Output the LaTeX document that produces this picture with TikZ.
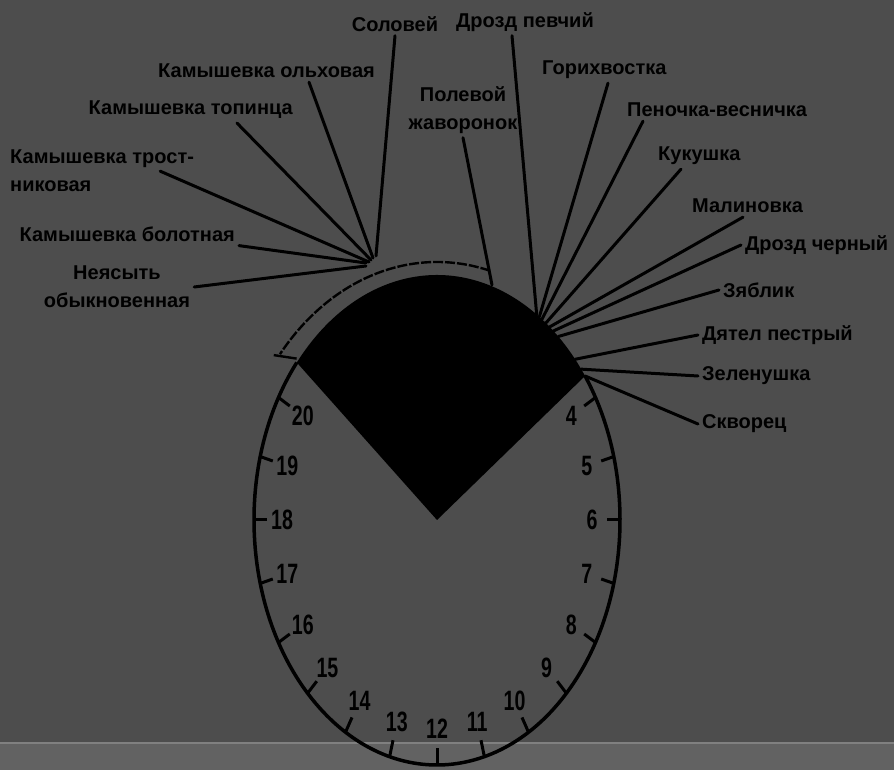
\documentclass[tikz,border=0pt]{standalone}
\usepackage{fontspec}
\setmainfont{Liberation Sans}
\newfontfamily\numfont[FakeStretch=0.7]{Liberation Sans}
\usepackage{xcolor}
\usepackage{tikz}
\usetikzlibrary{positioning,calc}
\definecolor{slate}{RGB}{77,77,77}
\definecolor{strip}{RGB}{98,98,98}
\definecolor{stripedge}{RGB}{128,128,128}

\begin{document}
\begin{tikzpicture}[
    x=1pt, y=1pt,
    bird/.style={font=\fontsize{20}{28}\selectfont\bfseries, inner sep=4pt, align=center},
    hour/.style={font=\numfont\fontsize{28}{28}\selectfont\bfseries, inner sep=0pt},
    lead/.style={line width=3pt, line cap=round},
    rim/.style={line width=3.5pt},
    tick/.style={line width=3pt}
]

% background and lower strip
\useasboundingbox (0,0) rectangle (894,770);
\fill[slate] (-5,-5) rectangle (899,775);
\fill[strip] (-5,-5) rectangle (899,27);
\draw[stripedge, line width=2pt] (-5,27) -- (899,27);

\coordinate (c) at (437,250);

% night sector and dial
\fill (c) -- ($(c)+(36:183 and 245)$) arc[start angle=36, end angle=140, x radius=183, y radius=245] -- cycle;
\draw[rim] ($(c)+(140:183 and 245)$) arc[start angle=140, end angle=396, x radius=183, y radius=245];
\draw[line width=2.4pt, dash pattern=on 10pt off 2pt] ($(c)+(75:205 and 258)$)
    arc[start angle=75, end angle=140, x radius=205, y radius=258];
\draw[line width=2.4pt] ($(c)+(141:210 and 262)$) -- ($(c)+(139:186 and 246)$);

% hour marks
\foreach \h in {4,...,20}{
  \pgfmathsetmacro{\ang}{270+(12-\h)*15}
  \draw[tick] ($(c)+(\ang:183 and 245)$) -- ($(c)+(\ang:170 and 228)$);
  \node[hour] (h\h) at ($(c)+(\ang:155 and 209)$) {\h};
}

% left group
\node[bird] (sol) at (395,746) {Соловей};
\node[bird, anchor=east] (kolh) at (379,699) {Камышевка ольховая};
\node[bird, anchor=east] (ktop) at (297,660) {Камышевка топинца};
\node[bird, anchor=north west, align=left] (ktrost) at (6,624) {Камышевка трост-\\никовая};
\node[bird, anchor=east] (kbol) at (239,536) {Камышевка болотная};
\node[bird] (nej) at (117,483) {Неясыть\\обыкновенная};

% middle
\node[bird] (pol) at (463,660) {Полевой\\жаворонок};
\node[bird] (dpev) at (525,748) {Дрозд певчий};

% right group
\node[bird, anchor=west] (gor) at (538,700) {Горихвостка};
\node[bird, anchor=west] (pen) at (623,660) {Пеночка-весничка};
\node[bird, anchor=west] (kuk) at (654,614) {Кукушка};
\node[bird, anchor=west] (mal) at (688,564) {Малиновка};
\node[bird, anchor=west] (dcher) at (741,525) {Дрозд черный};
\node[bird, anchor=west] (zyab) at (719,480) {Зяблик};
\node[bird, anchor=west] (dyat) at (698,435) {Дятел пестрый};
\node[bird, anchor=west] (zel) at (698,394) {Зеленушка};
\node[bird, anchor=west] (skv) at (698,346) {Скворец};

% where the leaders meet the dial
\coordinate (lsol) at (376,514);
\coordinate (lolh) at (373,512);
\coordinate (ltop) at (371,510);
\coordinate (ltrost) at (369,508);
\coordinate (lbol) at (366,507);
\coordinate (lnej) at (366,504);
\coordinate (epol) at (492,485);
\foreach \n/\a in {dpev/57, gor/56, pen/55, kuk/53.5, mal/52, dcher/50.5, zyab/48.5, dyat/41, zel/38, skv/36}
  \coordinate (e\n) at ($(c)+(\a:183 and 245)$);

% leaders
\draw[lead] (sol.south) -- (lsol);
\draw[lead] ([xshift=-70pt]kolh.south east) -- (lolh);
\draw[lead] ([xshift=-60pt]ktop.south east) -- (ltop);
\draw[lead] ([xshift=-38pt]ktrost.east) -- (ltrost);
\draw[lead] (kbol.south east) -- (lbol);
\draw[lead] (nej.east) -- (lnej);
\draw[lead] (pol.south) -- (epol);
\draw[lead] ([xshift=-13pt]dpev.south) -- (edpev);
\draw[lead] ([xshift=70pt]gor.south west) -- (egor);
\draw[lead] ([xshift=20pt]pen.south west) -- (epen);
\draw[lead] ([xshift=27pt]kuk.south west) -- (ekuk);
\draw[lead] ([xshift=55pt]mal.south west) -- (emal);
\draw[lead] (dcher.west) -- (edcher);
\draw[lead] (zyab.west) -- (ezyab);
\draw[lead] (dyat.west) -- (edyat);
\draw[lead] (zel.west) -- (ezel);
\draw[lead] (skv.west) -- (eskv);

\end{tikzpicture}
\end{document}
